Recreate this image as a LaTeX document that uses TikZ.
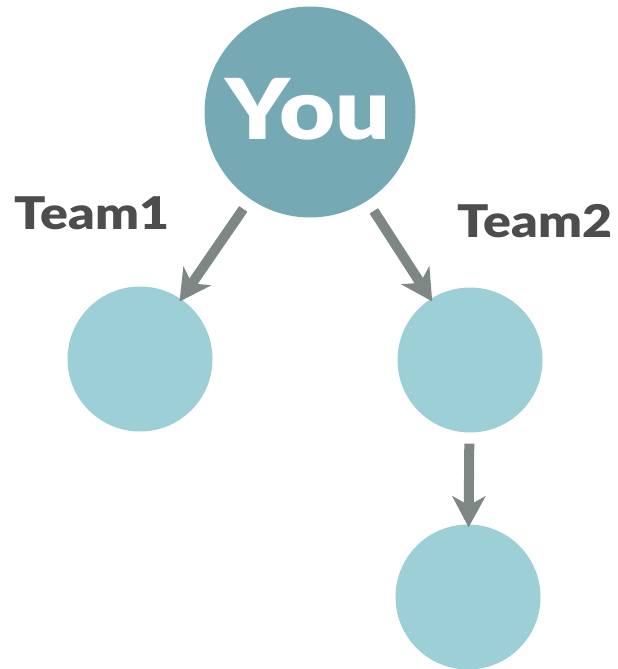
\documentclass[tikz,border=0pt]{standalone}
\usepackage{fontspec}
\setmainfont{Lato}
\newfontfamily\blk{Lato Black}
\usetikzlibrary{arrows.meta}
\definecolor{youc}{HTML}{75AAB4}
\definecolor{teamc}{HTML}{9DCFD6}
\definecolor{arrc}{HTML}{7E8784}
\definecolor{txtc}{HTML}{4D4D4D}
\newcommand{\wide}[1]{\scalebox{1.15}[1]{#1}}
\tikzset{
  youbox/.style={circle, fill=youc, draw=none, inner sep=0pt, minimum size=211pt},
  teambox/.style={circle, fill=teamc, draw=none, inner sep=0pt, minimum size=145pt},
  conn/.style={draw=arrc, line width=10pt, -{Stealth[length=31pt, width=33pt, inset=9pt]}, shorten <=12pt, shorten >=-3pt},
  lbl/.style={text=txtc, font=\fontsize{45}{45}\selectfont\blk, inner sep=0pt, anchor=base}
}
\begin{document}
\begin{tikzpicture}[x=1pt, y=-1pt]
\useasboundingbox (0,0) rectangle (618,669);
\node[youbox] (you) at (310,112) {};
\node[text=white, font=\fontsize{84}{84}\selectfont\blk, inner sep=0pt, anchor=base] (youtxt) at (308,139) {\wide{You}};
\node[teambox] (t1) at (140,359) {};
\node[teambox] (t2) at (470,360) {};
\node[teambox] (t3) at (468,597) {};
\node[lbl] (l1) at (92,229) {\wide{Team1}};
\node[lbl] (l2) at (535,237) {\wide{Team2}};
\draw[conn] (you) -- (t1);
\draw[conn] (you) -- (t2);
\draw[conn, shorten <=11pt] (t2) -- (t3);
\end{tikzpicture}
\end{document}
